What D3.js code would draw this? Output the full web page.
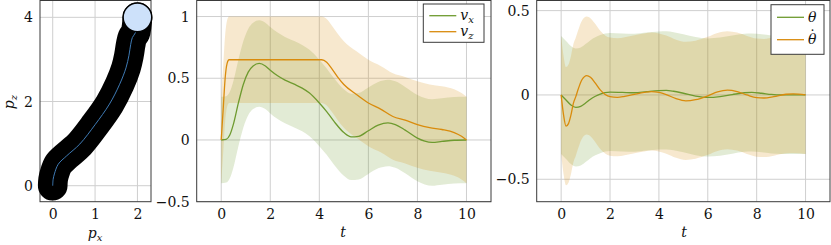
<!DOCTYPE html>
<html><head><meta charset="utf-8">
<script src="https://cdn.jsdelivr.net/npm/d3@7"></script>
<style>
html,body{margin:0;padding:0;background:#fff;}
svg{display:block;}
</style></head>
<body>
<svg id="chart" width="831" height="245"></svg>
<script>
// ---------- DATA ----------
// Panel 1: trajectory (p_x, p_z)
const pathX = [0, 0.01, 0.04, 0.13, 0.33, 0.64, 1.0, 1.34, 1.58, 1.73, 1.8, 1.84, 1.88, 1.95, 1.98, 2.0];
const pathZ = [0, 0.15, 0.28, 0.51, 0.71, 0.99, 1.45, 1.94, 2.41, 2.8, 3.1, 3.35, 3.52, 3.63, 3.78, 4.0];
const robotRadius = 0.35;
const p1XTicks = [0, 1, 2];
const p1YTicks = [0, 2, 4];

// Panel 2: velocities
const vzT = [0, 0.08, 0.16, 0.24, 0.32, 1, 2, 3, 4.1, 4.3, 4.5, 4.75, 5, 5.5, 6, 6.5, 7, 7.5, 8, 8.5, 9, 9.5, 9.8, 10];
const vz = [0, 0.25, 0.5, 0.62, 0.65, 0.65, 0.65, 0.65, 0.65, 0.63, 0.58, 0.51, 0.45, 0.37, 0.3, 0.25, 0.19, 0.16, 0.125, 0.1, 0.085, 0.06, 0.03, 0];
const vzUpper = [0.35, 0.6, 0.85, 0.97, 1, 1, 1, 1, 1, 0.98, 0.93, 0.86, 0.8, 0.72, 0.65, 0.6, 0.54, 0.51, 0.475, 0.45, 0.435, 0.41, 0.38, 0.35];
const vzLower = [-0.35, -0.1, 0.15, 0.27, 0.3, 0.3, 0.3, 0.3, 0.3, 0.28, 0.23, 0.16, 0.1, 0.02, -0.05, -0.1, -0.16, -0.19, -0.225, -0.25, -0.265, -0.29, -0.32, -0.35];

const vxT = [0, 0.2, 0.35, 0.5, 0.7, 0.9, 1.1, 1.3, 1.55, 1.8, 2, 2.3, 2.6, 3, 3.3, 3.6, 4, 4.3, 4.6, 5, 5.3, 5.6, 6, 6.4, 6.8, 7.1, 7.5, 8, 8.3, 8.6, 9, 9.5, 10];
const vx = [0, 0.005, 0.04, 0.13, 0.3, 0.45, 0.55, 0.6, 0.62, 0.6, 0.565, 0.52, 0.485, 0.45, 0.42, 0.38, 0.3, 0.23, 0.15, 0.06, 0.025, 0.03, 0.075, 0.12, 0.138, 0.125, 0.08, 0.015, -0.01, -0.02, -0.012, -0.002, 0];
const vxUpper = [0.35, 0.355, 0.39, 0.48, 0.65, 0.8, 0.9, 0.95, 0.97, 0.95, 0.915, 0.87, 0.835, 0.8, 0.77, 0.73, 0.65, 0.58, 0.5, 0.41, 0.375, 0.38, 0.425, 0.47, 0.488, 0.475, 0.43, 0.365, 0.34, 0.33, 0.338, 0.348, 0.35];
const vxLower = [-0.35, -0.345, -0.31, -0.22, -0.05, 0.1, 0.2, 0.25, 0.27, 0.25, 0.215, 0.17, 0.135, 0.1, 0.07, 0.03, -0.05, -0.12, -0.2, -0.29, -0.325, -0.32, -0.275, -0.23, -0.212, -0.225, -0.27, -0.335, -0.36, -0.37, -0.362, -0.352, -0.35];

// Panel 3: angle and angular rate
const thT = [0, 0.2, 0.4, 0.6, 0.8, 1, 1.2, 1.4, 1.6, 1.8, 2, 2.5, 3, 3.5, 4, 4.3, 4.6, 5, 5.5, 6, 6.5, 7, 7.5, 7.8, 8.2, 8.6, 9, 9.5, 10];
const th = [0, -0.03, -0.06, -0.074, -0.068, -0.048, -0.025, -0.008, 0.005, 0.014, 0.017, 0.015, 0.013, 0.02, 0.026, 0.027, 0.022, 0.01, -0.007, -0.015, -0.01, 0.002, 0.013, 0.015, 0.01, 0.003, 0, 0, 0];
const thUpper = [0.35, 0.32, 0.29, 0.276, 0.282, 0.302, 0.325, 0.342, 0.355, 0.364, 0.367, 0.365, 0.363, 0.37, 0.376, 0.377, 0.372, 0.36, 0.343, 0.335, 0.34, 0.352, 0.363, 0.365, 0.36, 0.353, 0.35, 0.35, 0.35];
const thLower = [-0.35, -0.38, -0.41, -0.424, -0.418, -0.398, -0.375, -0.358, -0.345, -0.336, -0.333, -0.335, -0.337, -0.33, -0.324, -0.323, -0.328, -0.34, -0.357, -0.365, -0.36, -0.348, -0.337, -0.335, -0.34, -0.347, -0.35, -0.35, -0.35];

const thdT = [0, 0.1, 0.2, 0.3, 0.4, 0.5, 0.6, 0.7, 0.85, 1.05, 1.2, 1.4, 1.6, 1.8, 2, 2.3, 2.6, 3, 3.4, 3.7, 4, 4.3, 4.7, 5.1, 5.5, 6, 6.4, 6.8, 7.2, 7.6, 8, 8.3, 8.7, 9.2, 9.5, 10];
const thd = [0, -0.12, -0.185, -0.17, -0.12, -0.05, -0.01, 0.035, 0.09, 0.115, 0.105, 0.07, 0.03, 0.003, -0.01, -0.014, -0.008, 0.004, 0.015, 0.02, 0.015, 0.002, -0.022, -0.035, -0.028, -0.005, 0.018, 0.028, 0.02, 0, -0.016, -0.018, -0.01, 0.004, 0.006, 0];
const thdUpper = [0.35, 0.23, 0.165, 0.18, 0.23, 0.3, 0.34, 0.385, 0.44, 0.465, 0.455, 0.42, 0.38, 0.353, 0.34, 0.336, 0.342, 0.354, 0.365, 0.37, 0.365, 0.352, 0.328, 0.315, 0.322, 0.345, 0.368, 0.378, 0.37, 0.35, 0.334, 0.332, 0.34, 0.354, 0.356, 0.35];
const thdLower = [-0.35, -0.47, -0.535, -0.52, -0.47, -0.4, -0.36, -0.315, -0.26, -0.235, -0.245, -0.28, -0.32, -0.347, -0.36, -0.364, -0.358, -0.346, -0.335, -0.33, -0.335, -0.348, -0.372, -0.385, -0.378, -0.355, -0.332, -0.322, -0.33, -0.35, -0.366, -0.368, -0.36, -0.346, -0.344, -0.35];

const tTicks = [0, 2, 4, 6, 8, 10];
const p2YTicks = [-0.5, 0, 0.5, 1];
const p3YTicks = [-0.5, 0, 0.5];

// ---------- STYLE ----------
const GREEN = "#6e9a2f", ORANGE = "#d98b0c";
const GRID = "#cfcfcf", FRAME = "#3a3a3a";
const FS = 14;
const FONT = "'DejaVu Serif', 'Liberation Serif', serif";

const svg = d3.select("#chart");
const fmt = v => (v < 0 ? "\u2212" + Math.abs(v) : String(v));

function panel(box, xDom, yDom, xTicks, yTicks) {
  const x = d3.scaleLinear().domain(xDom).range([box.l, box.r]);
  const y = d3.scaleLinear().domain(yDom).range([box.b, box.t]);
  const g = svg.append("g");
  const grid = g.append("g");
  grid.selectAll("line.v").data(xTicks).join("line")
    .attr("x1", d => x(d)).attr("x2", d => x(d)).attr("y1", box.t).attr("y2", box.b)
    .attr("stroke", GRID).attr("stroke-width", 1);
  grid.selectAll("line.h").data(yTicks).join("line")
    .attr("y1", d => y(d)).attr("y2", d => y(d)).attr("x1", box.l).attr("x2", box.r)
    .attr("stroke", GRID).attr("stroke-width", 1);
  const ax = g.append("g").attr("transform", `translate(0,${box.b})`)
    .call(d3.axisBottom(x).tickValues(xTicks).tickSize(0).tickPadding(7).tickFormat(fmt));
  const ay = g.append("g").attr("transform", `translate(${box.l},0)`)
    .call(d3.axisLeft(y).tickValues(yTicks).tickSize(0).tickPadding(7).tickFormat(fmt));
  [ax, ay].forEach(a => {
    a.attr("font-family", FONT).attr("font-size", FS);
    a.select(".domain").remove();
    a.selectAll("text").attr("fill", "#111");
  });
  return {x, y, g};
}
function frame(g, box) {
  g.append("rect").attr("x", box.l).attr("y", box.t).attr("width", box.r - box.l).attr("height", box.b - box.t)
    .attr("fill", "none").attr("stroke", FRAME).attr("stroke-width", 1);
}
function band(p, T, lo, hi, color) {
  const area = d3.area().x((d, i) => p.x(T[i])).y0((d, i) => p.y(lo[i])).y1((d, i) => p.y(hi[i]))
    .curve(d3.curveMonotoneX);
  p.g.append("path").attr("d", area(T)).attr("fill", color).attr("fill-opacity", 0.2);
}
function curve(p, T, V, color) {
  const line = d3.line().x((d, i) => p.x(T[i])).y((d, i) => p.y(V[i])).curve(d3.curveMonotoneX);
  p.g.append("path").attr("d", line(T)).attr("fill", "none").attr("stroke", color).attr("stroke-width", 1.3);
}
function mathText(parent, x, y, main, sub, dot, anchor) {
  const t = parent.append("text").attr("x", x).attr("y", y)
    .attr("font-family", FONT).attr("font-size", FS).attr("font-style", "italic")
    .attr("text-anchor", anchor || "start").attr("fill", "#111");
  t.append("tspan").text(main);
  if (sub) t.append("tspan").attr("dy", 3).attr("font-size", 10).text(sub);
  if (dot) t.append("tspan").attr("dx", -7.5).attr("dy", -3.5).attr("font-style", "normal").text("\u02D9");
  return t;
}
function legend(g, box, entries) {
  g.append("rect").attr("x", box.x).attr("y", box.y).attr("width", box.w).attr("height", box.h)
    .attr("fill", "#fff").attr("stroke", FRAME).attr("stroke-width", 1);
  entries.forEach((e, i) => {
    const yy = box.y + box.first + i * box.step;
    g.append("line").attr("x1", box.x + 6).attr("x2", box.x + 33).attr("y1", yy).attr("y2", yy)
      .attr("stroke", e.color).attr("stroke-width", 1.3);
    mathText(g, box.x + 37, yy + 4.5, e.main, e.sub, e.dot);
  });
}
function axisLabel(x, y, main, sub, rotate) {
  const g = svg.append("g").attr("transform", `translate(${x},${y})` + (rotate ? " rotate(-90)" : ""));
  mathText(g, 0, 0, main, sub, false, "middle");
}

// ---------- PANEL 1 ----------
const b1 = {l: 40, r: 151, t: 0.5, b: 201.7};
const p1 = panel(b1, [-0.3, 2.32], [-0.38, 4.4], p1XTicks, p1YTicks);
frame(p1.g, b1);
const pathLine = d3.line().x((d, i) => p1.x(pathX[i])).y((d, i) => p1.y(pathZ[i])).curve(d3.curveCatmullRom.alpha(0.5));
const tubeW = 2 * (p1.x(robotRadius) - p1.x(0));
p1.g.append("path").attr("d", pathLine(pathX)).attr("fill", "none").attr("stroke", "#000")
  .attr("stroke-width", tubeW).attr("stroke-linecap", "round").attr("stroke-linejoin", "round");
p1.g.append("path").attr("d", pathLine(pathX)).attr("fill", "none").attr("stroke", "#3f7bb5").attr("stroke-width", 1);
p1.g.append("circle").attr("cx", p1.x(pathX[pathX.length - 1])).attr("cy", p1.y(pathZ[pathZ.length - 1]))
  .attr("r", tubeW / 2 - 0.5).attr("fill", "#cde1fa").attr("stroke", "#000").attr("stroke-width", 1.5);
axisLabel(95, 238, "p", "x");
axisLabel(14, 102, "p", "z", true);

// ---------- PANEL 2 ----------
const b2 = {l: 196.7, r: 491, t: 0.5, b: 201.7};
const p2 = panel(b2, [-1, 11], [-0.5, 1.13], tTicks, p2YTicks);
band(p2, vxT, vxLower, vxUpper, GREEN);
band(p2, vzT, vzLower, vzUpper, ORANGE);
curve(p2, vxT, vx, GREEN);
curve(p2, vzT, vz, ORANGE);
legend(p2.g, {x: 423.3, y: 4, w: 60.7, h: 38.3, first: 11.7, step: 16}, [
  {main: "v", sub: "x", color: GREEN}, {main: "v", sub: "z", color: ORANGE}]);
frame(p2.g, b2);
axisLabel(343, 237, "t");

// ---------- PANEL 3 ----------
const b3 = {l: 536.7, r: 830, t: 0.5, b: 201.7};
const p3 = panel(b3, [-1, 11], [-0.633, 0.56], tTicks, p3YTicks);
band(p3, thT, thLower, thUpper, GREEN);
band(p3, thdT, thdLower, thdUpper, ORANGE);
curve(p3, thT, th, GREEN);
curve(p3, thdT, thd, ORANGE);
legend(p3.g, {x: 771, y: 4.7, w: 53, h: 49.6, first: 12.6, step: 22.4}, [
  {main: "\u03B8", color: GREEN}, {main: "\u03B8", dot: true, color: ORANGE}]);
frame(p3.g, b3);
axisLabel(684, 237, "t");
</script>
</body></html>
